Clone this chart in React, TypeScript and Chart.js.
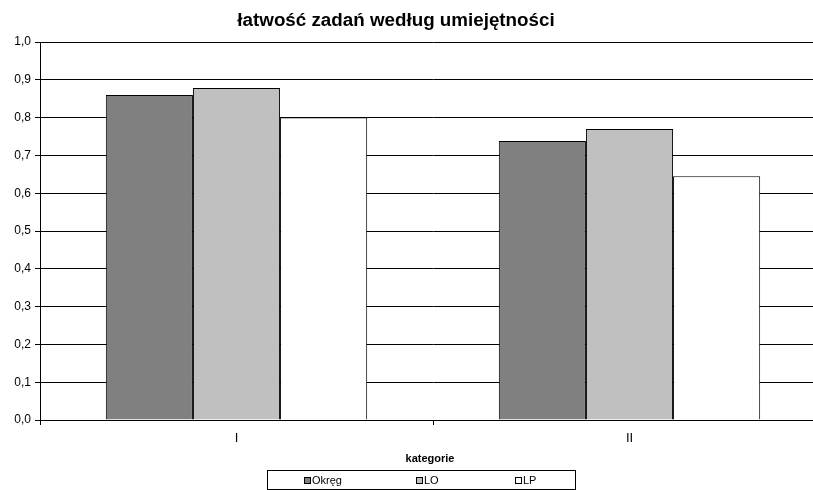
import React, { useEffect, useRef } from "react";
import { Chart, registerables } from "chart.js";

Chart.register(...registerables);

const categories = ["I", "II"];
const seriesNames = ["Okręg", "LO", "LP"];
const okregValues = [0.86, 0.738];
const loValues = [0.878, 0.77];
const lpValues = [0.8, 0.645];
const seriesColors = ["#808080", "#c0c0c0", "#ffffff"];
const titleText = "łatwość zadań według umiejętności";
const axisTitleText = "kategorie";

const FONT = "Arial, 'Liberation Sans', sans-serif";

const customDraw = {
  id: "customDraw",
  afterDraw(chart: any) {
    const ctx = chart.ctx;
    ctx.save();
    // title
    ctx.fillStyle = "#000";
    ctx.font = `bold 18.8px ${FONT}`;
    ctx.textAlign = "center";
    ctx.textBaseline = "middle";
    ctx.fillText(titleText, 396, 21);
    // axis title
    ctx.font = `bold 11px ${FONT}`;
    ctx.fillText(axisTitleText, 430, 459);
    // legend box
    ctx.strokeStyle = "#000";
    ctx.lineWidth = 1;
    ctx.strokeRect(267.5, 470.5, 308, 19);
    const items = [
      { sx: 304, tx: 312 },
      { sx: 416, tx: 424 },
      { sx: 515, tx: 523 },
    ];
    ctx.font = `11px ${FONT}`;
    ctx.textAlign = "left";
    items.forEach((it, i) => {
      ctx.fillStyle = seriesColors[i];
      ctx.fillRect(it.sx + 0.5, 477.5, 6, 6);
      ctx.strokeStyle = "#000";
      ctx.strokeRect(it.sx + 0.5, 477.5, 6, 6);
      ctx.fillStyle = "#000";
      ctx.fillText(seriesNames[i], it.tx, 481);
    });
    ctx.restore();
  },
};

export default function App() {
  const ref = useRef<HTMLCanvasElement>(null);
  useEffect(() => {
    if (!ref.current) return;
    const values = [okregValues, loValues, lpValues];
    const chart = new Chart(ref.current, {
      type: "bar",
      data: {
        labels: categories,
        datasets: seriesNames.map((n, i) => ({
          label: n,
          data: values[i],
          backgroundColor: seriesColors[i],
          borderColor: "#000",
          borderWidth: 1,
          categoryPercentage: 0.665,
          barPercentage: 1,
        })),
      },
      options: {
        animation: false,
        responsive: false,
        devicePixelRatio: 1,
        layout: { padding: { left: 0, right: 4, top: 42, bottom: 0 } },
        plugins: {
          legend: { display: false },
          title: { display: false },
          tooltip: { enabled: false },
        },
        scales: {
          x: {
            offset: true,
            grid: {
              display: true,
              offset: true,
              drawOnChartArea: false,
              color: "#000",
              tickLength: 5,
              tickColor: "#000",
            },
            border: { color: "#000", width: 1 },
            ticks: {
              color: "#000",
              font: { family: FONT, size: 13 },
              padding: 6,
            },
            afterFit(scale: any) {
              scale.height = 70;
            },
          },
          y: {
            min: 0,
            max: 1,
            ticks: {
              stepSize: 0.1,
              color: "#000",
              font: { family: FONT, size: 12 },
              padding: 4,
              callback: (v: any) => Number(v).toFixed(1).replace(".", ","),
            },
            grid: {
              color: "#000",
              lineWidth: 1,
              tickLength: 5,
              tickColor: "#000",
            },
            border: { color: "#000", width: 1 },
            afterFit(scale: any) {
              scale.width = 40;
            },
          },
        },
      },
      plugins: [customDraw],
    });
    return () => chart.destroy();
  }, []);
  return (
    <div
      style={{
        position: "fixed",
        left: 0,
        top: 0,
        width: 813,
        height: 490,
        overflow: "hidden",
        background: "#fff",
      }}
    >
      <canvas ref={ref} width={830} height={490} style={{ display: "block" }} />
    </div>
  );
}
